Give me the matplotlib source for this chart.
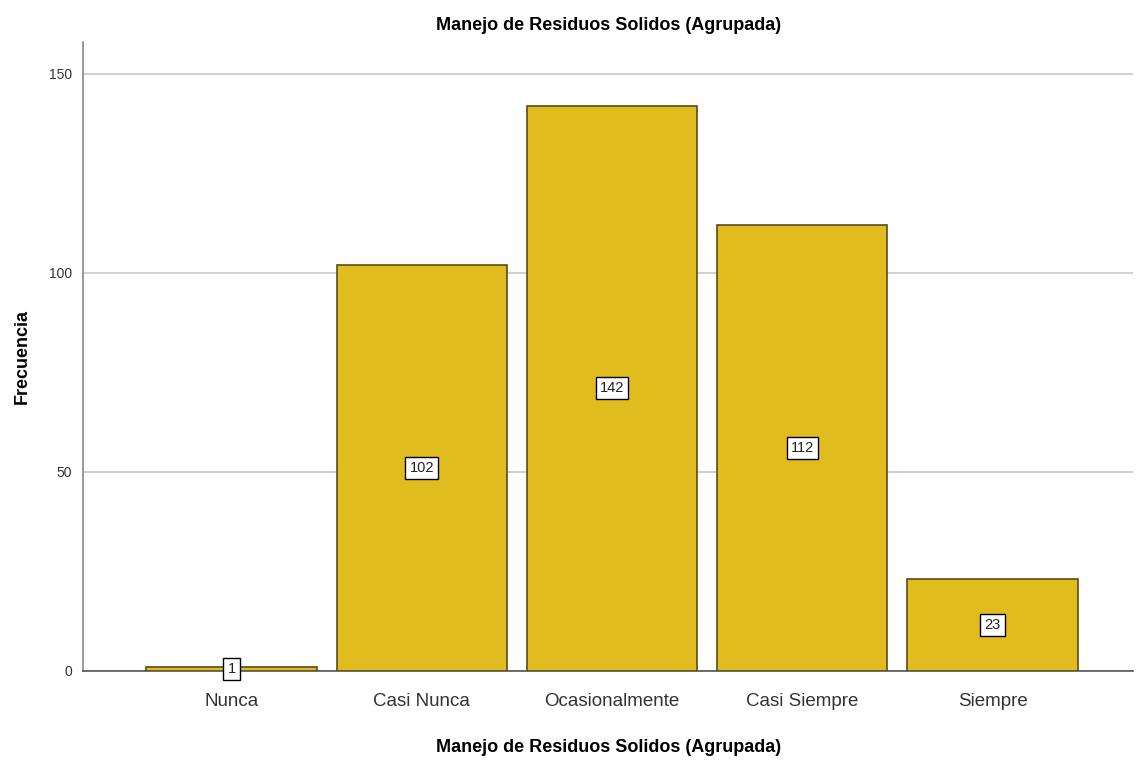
import matplotlib
matplotlib.use("Agg")
import matplotlib.pyplot as plt
import numpy as np

plt.rcParams['font.family'] = ['Liberation Sans', 'DejaVu Sans']

categorias = ["Nunca", "Casi Nunca", "Ocasionalmente", "Casi Siempre", "Siempre"]
frecuencia = [1, 102, 142, 112, 23]
y_ticks = [0, 50, 100, 150]

fig = plt.figure(figsize=(11.39, 7.63), dpi=100)
ax = fig.add_axes([0.073, 0.121, 0.922, 0.824])

x = np.arange(len(categorias))
ax.bar(x, frecuencia, width=0.895, color="#E0BC1E", edgecolor="#5a4a1c",
       linewidth=1.2, zorder=3)

for xi, v in zip(x, frecuencia):
    ax.text(xi, v / 2, str(v), ha="center", va="center", fontsize=10.5,
            color="#222222", zorder=4,
            bbox=dict(boxstyle="square,pad=0.28", facecolor="white",
                      edgecolor="black", linewidth=1))

ax.set_xlim(-0.78, 4.74)
ax.set_ylim(0, 158)
ax.set_yticks(y_ticks)
ax.set_xticks(x)
ax.set_xticklabels(categorias, fontsize=13.5, color="#333333")
ax.tick_params(axis="y", labelsize=10, colors="#333333", length=0, pad=8)
ax.tick_params(axis="x", length=0, pad=16)
ax.yaxis.grid(True, color="#c8c8c8", linewidth=1.2, zorder=0)
ax.set_axisbelow(True)

for s in ["top", "right"]:
    ax.spines[s].set_visible(False)
ax.spines["left"].set_color("#888888")
ax.spines["bottom"].set_color("#555555")
ax.spines["left"].set_linewidth(1.2)
ax.spines["bottom"].set_linewidth(1.2)

ax.set_title("Manejo de Residuos Solidos (Agrupada)", fontsize=13,
             fontweight="bold", pad=8.5)
ax.set_xlabel("Manejo de Residuos Solidos (Agrupada)", fontsize=13,
              fontweight="bold", labelpad=21)
ax.set_ylabel("Frecuencia", fontsize=13, fontweight="bold", labelpad=13)

fig.savefig("out.png", dpi=100)
